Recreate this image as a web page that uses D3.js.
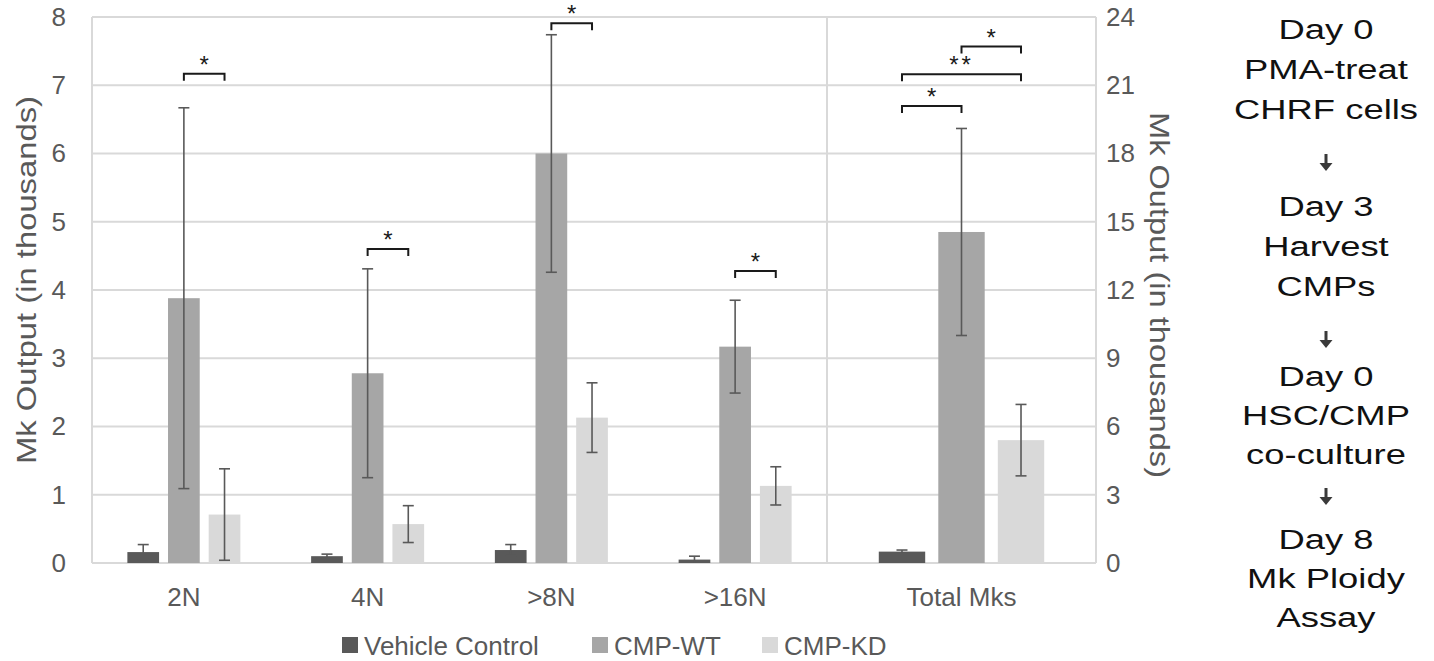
<!DOCTYPE html>
<html lang="en">
<head>
  <meta charset="utf-8">
  <title>Mk Output</title>
  <script src="https://d3js.org/d3.v7.min.js"></script>
  <style>
    body { margin: 0; background: #fff; }
    svg { display: block; font-family: "Liberation Sans", Arial, sans-serif; }
    .grid line { stroke: #d9d9d9; stroke-width: 2; }
    .err { stroke: #595959; stroke-width: 1.6; }
    .sig { stroke: #1a1a1a; stroke-width: 2; fill: none; }
    .tick text { fill: #595959; }
  </style>
</head>
<body>
<script>
  // ploidy classes on the left axis, total on the right axis
  const categories = ["2N", "4N", ">8N", ">16N"];
  const totalCategory = ["Total Mks"];
  const series = ["Vehicle Control", "CMP-WT", "CMP-KD"];
  const seriesColors = ["#595959", "#a6a6a6", "#d9d9d9"];

  // means and error (in thousands)
  const vehicleMean = [0.16, 0.10, 0.19, 0.05];
  const vehicleErr  = [0.11, 0.03, 0.08, 0.05];
  const wtMean = [3.88, 2.78, 6.00, 3.17];
  const wtErr  = [2.79, 1.53, 1.74, 0.68];
  const kdMean = [0.71, 0.57, 2.13, 1.13];
  const kdErr  = [0.67, 0.27, 0.51, 0.28];

  const totalMean = [0.50, 14.55, 5.40];
  const totalErr  = [0.07, 4.55, 1.57];

  const leftTicks = [0, 1, 2, 3, 4, 5, 6, 7, 8];
  const rightTicks = [0, 3, 6, 9, 12, 15, 18, 21, 24];

  // significance brackets
  const sigBrackets = [
    { cat: "2N",   from: "CMP-WT", to: "CMP-KD", y: 7.17, label: "*" },
    { cat: "4N",   from: "CMP-WT", to: "CMP-KD", y: 4.60, label: "*" },
    { cat: ">8N",  from: "CMP-WT", to: "CMP-KD", y: 7.91, label: "*" },
    { cat: ">16N", from: "CMP-WT", to: "CMP-KD", y: 4.28, label: "*" }
  ];
  const totalBrackets = [
    { from: "CMP-WT", to: "CMP-KD", y: 22.70, label: "*" },
    { from: "Vehicle Control", to: "CMP-KD", y: 21.48, label: "**" },
    { from: "Vehicle Control", to: "CMP-WT", y: 20.09, label: "*" }
  ];

  const flowSteps = [
    ["Day 0", "PMA-treat", "CHRF cells"],
    ["Day 3", "Harvest", "CMPs"],
    ["Day 0", "HSC/CMP", "co-culture"],
    ["Day 8", "Mk Ploidy", "Assay"]
  ];

  const width = 1434, height = 661;
  const plotL = 92, plotR = 1096, split = 827, plotT = 17, plotB = 563;

  const svg = d3.select("body").append("svg")
    .attr("width", width)
    .attr("height", height);

  const yLeft = d3.scaleLinear().domain([0, 8]).range([plotB, plotT]);
  const yRight = d3.scaleLinear().domain([0, 24]).range([plotB, plotT]);

  const xLeft = d3.scaleBand().domain(categories).range([plotL, split]);
  const xRight = d3.scaleBand().domain(totalCategory).range([split, plotR]);

  // bars inside a group take ~61% of the band
  function inner(band) {
    const w = band * 0.615;
    return d3.scaleBand().domain(series).range([(band - w) / 2, (band + w) / 2]).paddingInner(0.22);
  }
  const xInL = inner(xLeft.bandwidth());
  const xInR = inner(xRight.bandwidth());

  // gridlines
  svg.append("g").attr("class", "grid")
    .selectAll("line").data(leftTicks).join("line")
    .attr("x1", plotL).attr("x2", plotR)
    .attr("y1", d => yLeft(d)).attr("y2", d => yLeft(d));

  svg.append("g").attr("class", "grid")
    .selectAll("line").data([plotL, split, plotR]).join("line")
    .attr("x1", d => d).attr("x2", d => d)
    .attr("y1", plotT).attr("y2", plotB);

  // build rows for left part
  const leftRows = [];
  categories.forEach((c, i) => {
    leftRows.push({ cat: c, s: series[0], v: vehicleMean[i], e: vehicleErr[i] });
    leftRows.push({ cat: c, s: series[1], v: wtMean[i], e: wtErr[i] });
    leftRows.push({ cat: c, s: series[2], v: kdMean[i], e: kdErr[i] });
  });
  const totalRows = series.map((s, i) => ({ cat: totalCategory[0], s: s, v: totalMean[i], e: totalErr[i] }));

  const color = d3.scaleOrdinal().domain(series).range(seriesColors);
  const capW = 11;

  function drawBars(rows, x, xIn, y) {
    const g = svg.append("g");
    g.selectAll("rect").data(rows).join("rect")
      .attr("x", d => x(d.cat) + xIn(d.s))
      .attr("y", d => y(d.v))
      .attr("width", xIn.bandwidth())
      .attr("height", d => y(0) - y(d.v))
      .attr("fill", d => color(d.s));

    const cx = d => x(d.cat) + xIn(d.s) + xIn.bandwidth() / 2;
    const lo = d => y(Math.max(0, d.v - d.e));
    g.selectAll(".err-v").data(rows).join("line").attr("class", "err")
      .attr("x1", cx).attr("x2", cx)
      .attr("y1", d => y(d.v + d.e)).attr("y2", lo);
    g.selectAll(".err-t").data(rows).join("line").attr("class", "err")
      .attr("x1", d => cx(d) - capW / 2).attr("x2", d => cx(d) + capW / 2)
      .attr("y1", d => y(d.v + d.e)).attr("y2", d => y(d.v + d.e));
    g.selectAll(".err-b").data(rows.filter(d => d.v - d.e > 0)).join("line").attr("class", "err")
      .attr("x1", d => cx(d) - capW / 2).attr("x2", d => cx(d) + capW / 2)
      .attr("y1", lo).attr("y2", lo);
  }
  drawBars(leftRows, xLeft, xInL, yLeft);
  drawBars(totalRows, xRight, xInR, yRight);

  // significance brackets
  function drawBracket(x0, x1, yy, label) {
    svg.append("path").attr("class", "sig")
      .attr("d", `M${x0},${yy + 7}V${yy}H${x1}V${yy + 7}`);
    svg.append("text")
      .attr("x", (x0 + x1) / 2).attr("y", yy - 1)
      .attr("text-anchor", "middle")
      .attr("font-size", 24).attr("letter-spacing", label.length > 1 ? 3 : 0)
      .attr("fill", "#1a1a1a")
      .text(label);
  }
  sigBrackets.forEach(b => {
    const c0 = xLeft(b.cat) + xInL(b.from) + xInL.bandwidth() / 2;
    const c1 = xLeft(b.cat) + xInL(b.to) + xInL.bandwidth() / 2;
    drawBracket(c0, c1, yLeft(b.y), b.label);
  });
  totalBrackets.forEach(b => {
    const c0 = xRight(totalCategory[0]) + xInR(b.from) + xInR.bandwidth() / 2;
    const c1 = xRight(totalCategory[0]) + xInR(b.to) + xInR.bandwidth() / 2;
    drawBracket(c0, c1, yRight(b.y), b.label);
  });

  // axes
  const axL = svg.append("g").attr("transform", `translate(${plotL},0)`)
    .call(d3.axisLeft(yLeft).tickValues(leftTicks).tickSize(0).tickPadding(26));
  const axR = svg.append("g").attr("transform", `translate(${plotR},0)`)
    .call(d3.axisRight(yRight).tickValues(rightTicks).tickSize(0).tickPadding(10));
  const axB1 = svg.append("g").attr("transform", `translate(0,${plotB})`)
    .call(d3.axisBottom(xLeft).tickSize(0).tickPadding(25));
  const axB2 = svg.append("g").attr("transform", `translate(0,${plotB})`)
    .call(d3.axisBottom(xRight).tickSize(0).tickPadding(25));
  [axL, axR, axB1, axB2].forEach(a => {
    a.select(".domain").remove();
    a.selectAll("text").attr("font-size", 26).attr("font-family", "Liberation Sans, Arial, sans-serif");
  });

  // axis titles, stretched along their length like the original
  svg.append("text")
    .attr("transform", "translate(26,280) rotate(-90)")
    .attr("text-anchor", "middle").attr("dominant-baseline", "central")
    .attr("font-size", 28).attr("fill", "#595959")
    .attr("textLength", 368).attr("lengthAdjust", "spacingAndGlyphs")
    .text("Mk Output (in thousands)");
  svg.append("text")
    .attr("transform", "translate(1159,295) rotate(90)")
    .attr("text-anchor", "middle").attr("dominant-baseline", "central")
    .attr("font-size", 28).attr("fill", "#595959")
    .attr("textLength", 366).attr("lengthAdjust", "spacingAndGlyphs")
    .text("Mk Output (in thousands)");

  // legend
  const legendX = [342, 592, 762];
  const legend = svg.append("g").selectAll("g").data(series).join("g")
    .attr("transform", (d, i) => `translate(${legendX[i]},645)`);
  legend.append("rect").attr("x", 0).attr("y", -8).attr("width", 16).attr("height", 16)
    .attr("fill", d => color(d));
  legend.append("text").attr("x", 22).attr("y", 1).attr("dominant-baseline", "central")
    .attr("font-size", 26).attr("fill", "#595959").text(d => d);

  // experiment timeline on the right
  const flowTop = [30, 207, 377, 540];
  const arrowY = [163, 340, 497];
  const lineGap = 40;
  const flow = svg.append("g").attr("transform", "translate(1326,0)");
  flowSteps.forEach((lines, i) => {
    flow.append("g").attr("transform", "scale(1.3,1)")
      .selectAll("text").data(lines).join("text")
      .attr("x", 0).attr("y", (d, j) => flowTop[i] + j * (i < 2 ? lineGap : 39))
      .attr("text-anchor", "middle").attr("dominant-baseline", "central")
      .attr("font-size", 28).attr("fill", "#111")
      .text(d => d);
  });
  flow.selectAll(".arrow").data(arrowY).join("path")
    .attr("d", ay => `M-1.5,${ay - 9}H1.5V${ay}H6.5L0,${ay + 8}L-6.5,${ay}H-1.5Z`)
    .attr("fill", "#3a3a3a");
</script>
</body>
</html>
